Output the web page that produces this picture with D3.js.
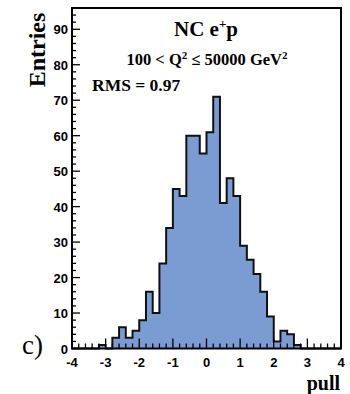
<!DOCTYPE html>
<html>
<head>
<meta charset="utf-8">
<script src="https://cdn.jsdelivr.net/npm/d3@7"></script>
<style>
  html, body { margin: 0; padding: 0; background: #fff; }
  svg { display: block; }
  .tick-label { font-family: "Liberation Sans", Arial, sans-serif; font-weight: bold; font-size: 13px; }
  .serif { font-family: "Liberation Serif", "Times New Roman", serif; }
</style>
</head>
<body>
<svg width="350" height="394"></svg>
<script>
// bin low edges (width 0.2) and entries per bin
const binLow = [-4.0, -3.8, -3.6, -3.4, -3.2, -3.0, -2.8, -2.6, -2.4, -2.2,
                -2.0, -1.8, -1.6, -1.4, -1.2, -1.0, -0.8, -0.6, -0.4, -0.2,
                 0.0,  0.2,  0.4,  0.6,  0.8,  1.0,  1.2,  1.4,  1.6,  1.8,
                 2.0,  2.2,  2.4,  2.6,  2.8,  3.0,  3.2,  3.4,  3.6,  3.8]
const counts = [0, 0, 0, 0, 1, 0, 3, 6, 3, 5,
                8, 16, 10, 24, 34, 45, 43, 60, 60, 55,
                61, 71, 41, 48, 43, 29, 25, 21, 16, 9,
                2, 5, 4, 1, 0, 0, 0, 0, 0, 0]
const binWidth = 0.2
const xTickLabels = [-4, -3, -2, -1, 0, 1, 2, 3, 4]
const yTickLabels = [0, 10, 20, 30, 40, 50, 60, 70, 80, 90]

const x = d3.scaleLinear().domain([-4, 4]).range([72, 341])
const y = d3.scaleLinear().domain([0, 96]).range([348.5, 8])

const svg = d3.select('svg')

const hist = binLow.map((lo, i) => ({lo: lo, n: counts[i]}))
hist.push({lo: binLow[binLow.length - 1] + binWidth, n: counts[counts.length - 1]})

// filled histogram
svg.append('path')
   .datum(hist)
   .attr('fill', '#7b9bd3')
   .attr('d', d3.area().curve(d3.curveStepAfter)
      .x(d => x(d.lo)).y0(y(0)).y1(d => y(d.n)))

svg.append('path')
   .datum(hist)
   .attr('fill', 'none')
   .attr('stroke', '#111')
   .attr('stroke-width', 2)
   .attr('d', d3.line().curve(d3.curveStepAfter)
      .x(d => x(d.lo)).y(d => y(d.n)))

// x ticks (inward), minor every 0.2
const xMinor = svg.append('g').attr('stroke', '#000').attr('stroke-width', 1.3)
d3.range(-4, 4.0001, 0.2).forEach(v => {
  const major = Math.abs(v - Math.round(v)) < 1e-6
  xMinor.append('line')
    .attr('x1', x(v)).attr('x2', x(v))
    .attr('y1', y(0)).attr('y2', y(0) - (major ? 10 : 5))
})
svg.append('g').selectAll('text')
   .data(xTickLabels)
   .enter()
   .append('text')
   .classed('tick-label', true)
   .attr('x', d => x(d))
   .attr('y', 367)
   .attr('text-anchor', 'middle')
   .text(d => d)

// y ticks (inward), minor every 2
const yMinor = svg.append('g').attr('stroke', '#000').attr('stroke-width', 1.3)
d3.range(0, 96, 2).forEach(v => {
  const major = v % 10 === 0
  yMinor.append('line')
    .attr('y1', y(v)).attr('y2', y(v))
    .attr('x1', x(-4)).attr('x2', x(-4) + (major ? 8 : 4))
})
svg.append('g').selectAll('text')
   .data(yTickLabels)
   .enter()
   .append('text')
   .classed('tick-label', true)
   .attr('x', 68)
   .attr('y', d => y(d) + 5)
   .attr('text-anchor', 'end')
   .text(d => d)

// frame
svg.append('rect')
   .attr('x', x(-4)).attr('y', y(96))
   .attr('width', x(4) - x(-4)).attr('height', y(0) - y(96))
   .attr('fill', 'none').attr('stroke', '#000').attr('stroke-width', 2)

// axis titles
svg.append('text')
   .classed('serif', true)
   .attr('transform', 'translate(45,50) rotate(-90)')
   .attr('text-anchor', 'middle')
   .attr('font-weight', 'bold').attr('font-size', 24)
   .text('Entries')

svg.append('text')
   .classed('serif', true)
   .attr('x', 340).attr('y', 390)
   .attr('text-anchor', 'end')
   .attr('font-weight', 'bold').attr('font-size', 20)
   .text('pull')

svg.append('text')
   .classed('serif', true)
   .attr('x', 22).attr('y', 354)
   .attr('font-size', 27)
   .text('c)')

// labels inside the frame
const t1 = svg.append('text')
   .classed('serif', true)
   .attr('x', 206).attr('y', 36)
   .attr('text-anchor', 'middle')
   .attr('font-weight', 'bold').attr('font-size', 21)
t1.append('tspan').text('NC e')
t1.append('tspan').attr('dy', -8).attr('font-size', 13).text('+')
t1.append('tspan').attr('dy', 8).text('p')

const t2 = svg.append('text')
   .classed('serif', true)
   .attr('x', 207).attr('y', 65)
   .attr('text-anchor', 'middle')
   .attr('font-weight', 'bold').attr('font-size', 16.5)
t2.append('tspan').text('100 < Q')
t2.append('tspan').attr('dy', -6).attr('font-size', 11).text('2')
t2.append('tspan').attr('dy', 6).text(' \u2264 50000 GeV')
t2.append('tspan').attr('dy', -6).attr('font-size', 11).text('2')

svg.append('text')
   .classed('serif', true)
   .attr('x', 92).attr('y', 91)
   .attr('font-weight', 'bold').attr('font-size', 17.5)
   .text('RMS = 0.97')
</script>
</body>
</html>
